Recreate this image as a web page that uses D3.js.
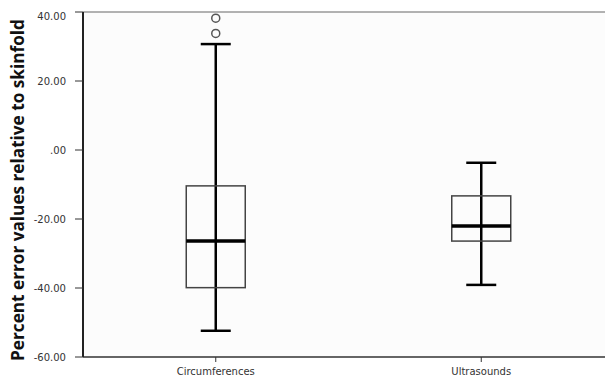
<!DOCTYPE html>
<html>
<head>
<meta charset="utf-8">
<script src="https://cdn.jsdelivr.net/npm/d3@7"></script>
<style>
  body { margin: 0; background: #fff; }
  .tick-label { font-family: "DejaVu Sans", sans-serif; font-size: 10px; fill: #333; }
  .axis-title { font-family: "Open Sans", sans-serif; font-weight: bold; font-size: 17.2px; fill: #111; }
</style>
</head>
<body>
<div id="chart"></div>
<script>
(function() {
    var categories = ["Circumferences", "Ultrasounds"];
    var whiskerLow = [-52.4, -39.1];
    var q1 = [-39.9, -26.4];
    var median = [-26.4, -22.0];
    var q3 = [-10.4, -13.3];
    var whiskerHigh = [30.7, -3.7];
    var outliers = [[38.2, 33.8], []];
    var yTicks = [40, 20, 0, -20, -40, -60];
    var yTickLabels = ["40.00", "20.00", ".00", "-20.00", "-40.00", "-60.00"];

    var width = 605;
    var height = 376;
    var left = 83, top = 12, bottom = 357, right = 614;

    var svg = d3.select("#chart").append("svg")
        .attr("width", width)
        .attr("height", height);

    var y = d3.scaleLinear().domain([-60, 40]).range([bottom, top]);
    var x = d3.scaleBand().domain(categories).range([left, right]);

    // plot background
    svg.append("rect")
        .attr("x", left).attr("y", top)
        .attr("width", width - left).attr("height", bottom - top)
        .attr("fill", "#fcfcfc");

    // frame
    svg.append("line")
        .attr("x1", left).attr("x2", width)
        .attr("y1", top).attr("y2", top)
        .attr("stroke", "#999").attr("stroke-width", 1.5);
    svg.append("line")
        .attr("x1", left).attr("x2", width)
        .attr("y1", bottom).attr("y2", bottom)
        .attr("stroke", "#333").attr("stroke-width", 1.5);
    svg.append("line")
        .attr("x1", left).attr("x2", left)
        .attr("y1", top).attr("y2", bottom)
        .attr("stroke", "#222").attr("stroke-width", 2);

    // y ticks
    svg.selectAll(".ytick")
        .data(yTicks).enter()
        .append("line")
        .attr("x1", left - 8).attr("x2", left)
        .attr("y1", function(d) { return y(d); })
        .attr("y2", function(d) { return y(d); })
        .attr("stroke", "#333").attr("stroke-width", 1);

    svg.selectAll(".ylabel")
        .data(yTicks).enter()
        .append("text")
        .attr("class", "tick-label")
        .attr("text-anchor", "end")
        .attr("x", left - 17)
        .attr("y", function(d) { return Math.max(y(d), top + 4) + 3.5; })
        .text(function(d, i) { return yTickLabels[i]; });

    // x ticks
    svg.selectAll(".xtick")
        .data(categories).enter()
        .append("line")
        .attr("x1", function(d) { return x(d) + x.bandwidth() / 2; })
        .attr("x2", function(d) { return x(d) + x.bandwidth() / 2; })
        .attr("y1", bottom).attr("y2", bottom + 5)
        .attr("stroke", "#333").attr("stroke-width", 1);

    svg.selectAll(".xlabel")
        .data(categories).enter()
        .append("text")
        .attr("class", "tick-label")
        .attr("text-anchor", "middle")
        .attr("x", function(d) { return x(d) + x.bandwidth() / 2; })
        .attr("y", 374.5)
        .text(function(d) { return d; });

    // axis title
    svg.append("text")
        .attr("class", "axis-title")
        .attr("text-anchor", "middle")
        .attr("transform", "translate(23.5," + 190 + ") rotate(-90)")
        .text("Percent error values relative to skinfold");

    var boxW = 59, capW = 30;
    var boxes = svg.selectAll(".box")
        .data(categories).enter()
        .append("g")
        .attr("transform", function(d) { return "translate(" + (x(d) + x.bandwidth() / 2) + ",0)"; });

    boxes.append("line")
        .attr("x1", 0).attr("x2", 0)
        .attr("y1", function(d, i) { return y(whiskerLow[i]); })
        .attr("y2", function(d, i) { return y(whiskerHigh[i]); })
        .attr("stroke", "#000").attr("stroke-width", 2.5);

    boxes.append("rect")
        .attr("x", -boxW / 2)
        .attr("width", boxW)
        .attr("y", function(d, i) { return y(q3[i]); })
        .attr("height", function(d, i) { return y(q1[i]) - y(q3[i]); })
        .attr("fill", "none")
        .attr("stroke", "#444").attr("stroke-width", 1.5);

    boxes.append("line")
        .attr("x1", -boxW / 2).attr("x2", boxW / 2)
        .attr("y1", function(d, i) { return y(median[i]); })
        .attr("y2", function(d, i) { return y(median[i]); })
        .attr("stroke", "#000").attr("stroke-width", 3.5);

    [whiskerLow, whiskerHigh].forEach(function(arr) {
        boxes.append("line")
            .attr("x1", -capW / 2).attr("x2", capW / 2)
            .attr("y1", function(d, i) { return y(arr[i]); })
            .attr("y2", function(d, i) { return y(arr[i]); })
            .attr("stroke", "#000").attr("stroke-width", 2.5);
    });

    boxes.selectAll(".outlier")
        .data(function(d, i) { return outliers[i]; })
        .enter()
        .append("circle")
        .attr("cx", 0)
        .attr("cy", function(d) { return y(d); })
        .attr("r", 4)
        .attr("fill", "none")
        .attr("stroke", "#555").attr("stroke-width", 1.5);
})();
</script>
</body>
</html>
